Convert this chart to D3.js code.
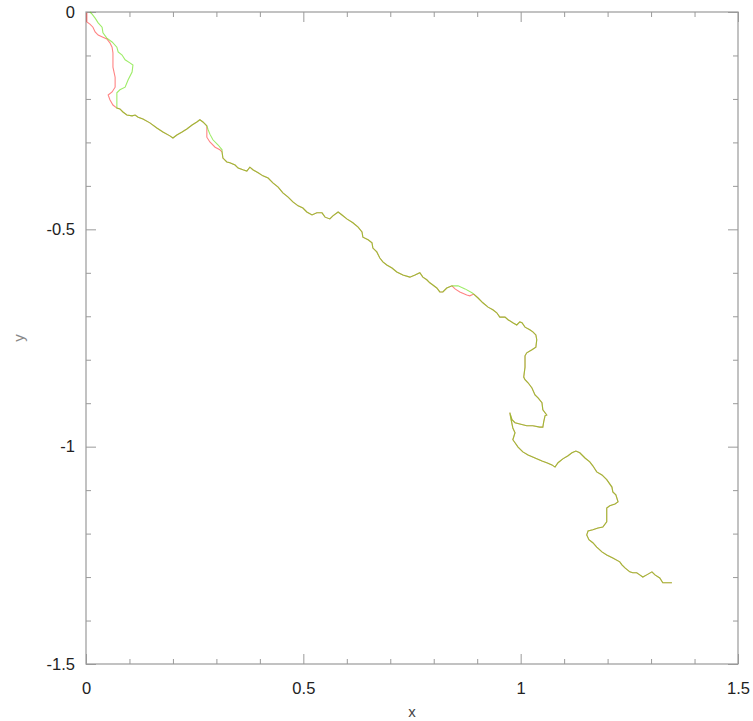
<!DOCTYPE html>
<html lang="en">
<head>
<meta charset="UTF-8">
<script src="https://d3js.org/d3.v7.min.js"></script>
<style>
  body { margin: 0; background: #fff; }
  svg text { font-family: "Liberation Sans", Arial, sans-serif; }
</style>
</head>
<body>
<script>
    // start of the two runs, they split here and join again at shared track
    const redStart = [
        [0.002, -0.002], [0.002, -0.023], [0.009, -0.028], [0.016, -0.035], [0.021, -0.046],
        [0.028, -0.053], [0.039, -0.058], [0.048, -0.062], [0.055, -0.071], [0.060, -0.081],
        [0.062, -0.094], [0.062, -0.127], [0.067, -0.150], [0.067, -0.173], [0.060, -0.184],
        [0.051, -0.191], [0.055, -0.202], [0.062, -0.214], [0.071, -0.221]
    ];
    const greenStart = [
        [0.009, 0.000], [0.014, -0.005], [0.021, -0.014], [0.028, -0.025], [0.037, -0.035],
        [0.039, -0.048], [0.048, -0.060], [0.060, -0.069], [0.071, -0.081], [0.074, -0.092],
        [0.083, -0.099], [0.090, -0.110], [0.101, -0.117], [0.108, -0.122], [0.106, -0.138],
        [0.097, -0.156], [0.090, -0.173], [0.078, -0.179], [0.071, -0.186], [0.071, -0.202],
        [0.071, -0.221]
    ];
    const track1 = [
        [0.078, -0.223], [0.085, -0.230], [0.094, -0.237], [0.106, -0.239], [0.113, -0.237],
        [0.120, -0.242], [0.131, -0.246], [0.147, -0.255], [0.163, -0.267], [0.177, -0.276],
        [0.193, -0.285], [0.200, -0.290], [0.209, -0.283], [0.221, -0.276], [0.232, -0.269],
        [0.244, -0.260], [0.255, -0.253], [0.262, -0.248], [0.269, -0.253], [0.278, -0.262]
    ];
    const redDetour1 = [[0.278, -0.271], [0.278, -0.288], [0.285, -0.299], [0.297, -0.311], [0.308, -0.317]];
    const greenDetour1 = [[0.281, -0.271], [0.285, -0.281], [0.292, -0.294], [0.304, -0.306], [0.313, -0.317]];
    const track2 = [
        [0.313, -0.322], [0.315, -0.336], [0.324, -0.345], [0.331, -0.347], [0.343, -0.352],
        [0.350, -0.359], [0.361, -0.363], [0.370, -0.366], [0.377, -0.357], [0.384, -0.363],
        [0.396, -0.370], [0.407, -0.377], [0.419, -0.382], [0.430, -0.393], [0.442, -0.403],
        [0.453, -0.416], [0.465, -0.426], [0.476, -0.437], [0.488, -0.446], [0.499, -0.451],
        [0.508, -0.460], [0.520, -0.467], [0.531, -0.462], [0.543, -0.462], [0.550, -0.472],
        [0.561, -0.476], [0.568, -0.469], [0.580, -0.460], [0.589, -0.467], [0.600, -0.476],
        [0.614, -0.485], [0.626, -0.495], [0.635, -0.506], [0.637, -0.518], [0.649, -0.524],
        [0.658, -0.531], [0.660, -0.543], [0.669, -0.552], [0.676, -0.566], [0.683, -0.575],
        [0.692, -0.582], [0.704, -0.589], [0.715, -0.598], [0.729, -0.605], [0.745, -0.610],
        [0.757, -0.605], [0.768, -0.600], [0.775, -0.610], [0.784, -0.616], [0.791, -0.623],
        [0.798, -0.628], [0.807, -0.635], [0.814, -0.644], [0.821, -0.644], [0.830, -0.635],
        [0.842, -0.630]
    ];
    const redDetour2 = [[0.849, -0.637], [0.860, -0.644], [0.876, -0.651], [0.883, -0.653]];
    const greenDetour2 = [[0.856, -0.630], [0.872, -0.637], [0.888, -0.646]];
    const track3 = [
        [0.892, -0.649], [0.902, -0.658], [0.913, -0.669], [0.925, -0.679], [0.936, -0.685],
        [0.945, -0.692], [0.952, -0.702], [0.964, -0.702], [0.971, -0.708], [0.982, -0.715],
        [0.991, -0.720], [0.998, -0.713], [1.003, -0.715], [1.010, -0.725], [1.021, -0.731],
        [1.028, -0.736], [1.035, -0.743], [1.037, -0.754], [1.035, -0.771], [1.026, -0.777],
        [1.014, -0.784], [1.010, -0.791], [1.010, -0.817], [1.007, -0.840], [1.010, -0.846],
        [1.017, -0.853], [1.026, -0.865], [1.033, -0.881], [1.040, -0.888], [1.049, -0.899],
        [1.051, -0.915], [1.060, -0.927], [1.056, -0.929], [1.053, -0.943], [1.051, -0.955],
        [1.044, -0.955], [1.028, -0.952], [1.014, -0.952], [0.998, -0.948], [0.987, -0.945],
        [0.980, -0.938], [0.975, -0.922], [0.978, -0.938], [0.982, -0.957], [0.987, -0.968],
        [0.982, -0.984], [0.987, -0.991], [0.994, -1.001], [1.005, -1.012], [1.017, -1.019],
        [1.033, -1.026], [1.049, -1.033], [1.060, -1.037], [1.072, -1.042], [1.079, -1.047],
        [1.086, -1.037], [1.097, -1.028], [1.109, -1.021], [1.118, -1.014], [1.127, -1.010],
        [1.136, -1.014], [1.148, -1.026], [1.159, -1.035], [1.166, -1.044], [1.175, -1.058],
        [1.187, -1.065], [1.198, -1.076], [1.210, -1.093], [1.212, -1.104], [1.219, -1.111],
        [1.224, -1.127], [1.217, -1.132], [1.205, -1.136], [1.198, -1.141], [1.198, -1.157],
        [1.198, -1.173], [1.189, -1.185], [1.178, -1.187], [1.166, -1.191], [1.155, -1.194],
        [1.152, -1.203], [1.157, -1.214], [1.166, -1.221], [1.175, -1.231], [1.187, -1.242],
        [1.198, -1.249], [1.212, -1.256], [1.228, -1.265], [1.233, -1.272], [1.240, -1.279],
        [1.251, -1.288], [1.258, -1.290], [1.267, -1.290], [1.274, -1.295], [1.281, -1.300],
        [1.290, -1.295], [1.302, -1.288], [1.309, -1.295], [1.320, -1.302], [1.327, -1.313],
        [1.336, -1.313], [1.348, -1.313]
    ];

    const redRun = [...redStart, ...track1, ...redDetour1, ...track2, ...redDetour2, ...track3];
    const greenRun = [...greenStart, ...track1, ...greenDetour1, ...track2, ...greenDetour2, ...track3];

    const xMajor = [0, 0.5, 1, 1.5];
    const xLabels = ["0", "0.5", "1", "1.5"];
    const yMajor = [0, -0.5, -1, -1.5];
    const yLabels = ["0", "-0.5", "-1", "-1.5"];
    const minorTicks = [0.1, 0.2, 0.3, 0.4, 0.6, 0.7, 0.8, 0.9, 1.1, 1.2, 1.3, 1.4];

    const width = 753;
    const height = 721;
    const margin = { top: 12, right: 15, bottom: 57, left: 86 };

    const x = d3.scaleLinear()
        .domain([0, 1.5])
        .range([margin.left, width - margin.right]);
    const y = d3.scaleLinear()
        .domain([-1.5, 0])
        .range([height - margin.bottom, margin.top]);

    const svg = d3.select("body")
        .append("svg")
        .attr("width", width)
        .attr("height", height)
        .attr("viewBox", [0, 0, width, height]);

    const axisColor = "#9a9a9a";

    function styleAxis(g) {
        g.select(".domain").remove();
        g.selectAll(".tick line").attr("stroke", axisColor);
        g.selectAll(".tick text").attr("fill", "#222").attr("font-size", 16.5);
    }

    // bottom / top
    svg.append("g")
        .attr("transform", `translate(0,${y(-1.5)})`)
        .call(d3.axisBottom(x).tickValues(xMajor).tickSize(-10).tickPadding(18)
            .tickFormat((d, i) => xLabels[i]))
        .call(styleAxis);
    svg.append("g")
        .attr("transform", `translate(0,${y(-1.5)})`)
        .call(d3.axisBottom(x).tickValues(minorTicks).tickSize(-5).tickFormat(""))
        .call(styleAxis);
    svg.append("g")
        .attr("transform", `translate(0,${y(0)})`)
        .call(d3.axisTop(x).tickValues(xMajor).tickSize(-10).tickFormat(""))
        .call(styleAxis);
    svg.append("g")
        .attr("transform", `translate(0,${y(0)})`)
        .call(d3.axisTop(x).tickValues(minorTicks).tickSize(-5).tickFormat(""))
        .call(styleAxis);

    // left / right
    svg.append("g")
        .attr("transform", `translate(${x(0)},0)`)
        .call(d3.axisLeft(y).tickValues(yMajor).tickSize(-10).tickPadding(11)
            .tickFormat((d, i) => yLabels[i]))
        .call(styleAxis);
    svg.append("g")
        .attr("transform", `translate(${x(0)},0)`)
        .call(d3.axisLeft(y).tickValues(minorTicks.map(v => -v)).tickSize(-5).tickFormat(""))
        .call(styleAxis);
    svg.append("g")
        .attr("transform", `translate(${x(1.5)},0)`)
        .call(d3.axisRight(y).tickValues(yMajor).tickSize(-10).tickFormat(""))
        .call(styleAxis);
    svg.append("g")
        .attr("transform", `translate(${x(1.5)},0)`)
        .call(d3.axisRight(y).tickValues(minorTicks.map(v => -v)).tickSize(-5).tickFormat(""))
        .call(styleAxis);

    // frame
    svg.append("rect")
        .attr("x", x(0))
        .attr("y", y(0))
        .attr("width", x(1.5) - x(0))
        .attr("height", y(-1.5) - y(0))
        .attr("fill", "none")
        .attr("stroke", axisColor)
        .attr("stroke-width", 1.2);

    const line = d3.line()
        .x(d => x(d[0]))
        .y(d => y(d[1]));

    svg.append("path")
        .datum(redRun)
        .attr("fill", "none")
        .attr("stroke", "#ff4040")
        .attr("stroke-opacity", 0.65)
        .attr("stroke-width", 1.1)
        .attr("d", line);

    svg.append("path")
        .datum(greenRun)
        .attr("fill", "none")
        .attr("stroke", "#5ce000")
        .attr("stroke-opacity", 0.6)
        .attr("stroke-width", 1.1)
        .attr("d", line);

    // axis titles
    svg.append("text")
        .attr("x", x(0.75))
        .attr("y", 717)
        .attr("text-anchor", "middle")
        .attr("font-size", 15)
        .attr("fill", "#444")
        .text("x");

    svg.append("text")
        .attr("transform", `translate(24,${y(-0.75)}) rotate(-90)`)
        .attr("text-anchor", "middle")
        .attr("font-size", 15)
        .attr("fill", "#888")
        .text("y");
</script>
</body>
</html>
